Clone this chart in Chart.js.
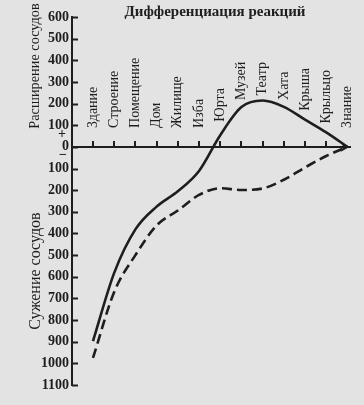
<!DOCTYPE html>
<html><head><meta charset="utf-8">
<script src="https://cdn.jsdelivr.net/npm/chart.js@4/dist/chart.umd.min.js"></script>
<style>html,body{margin:0;padding:0;background:#e3e3e3;}canvas{display:block;}</style>
</head><body>
<canvas id="c" width="364" height="405"></canvas>
<script>
// ---- data ----
const categories = ['Здание','Строение','Помещение','Дом','Жилище','Изба','Юрта','Музей','Театр','Хата','Крыша','Крыльцо','Знание'];
const solidValues  = [-897,-582,-381,-276,-205,-111,54,184,214,185,126,67,0];
const dashedValues = [-975,-670,-500,-363,-294,-222,-191,-199,-192,-152,-95,-42,0];
const yMin = -1100, yMax = 600, yStep = 100;
const chartTitle = 'Дифференциация реакций';
const upperLabel = 'Расширение сосудов';
const lowerLabel = 'Сужение сосудов';

const INK = '#1e1e1e';
const SERIF = "'Liberation Serif','Times New Roman',serif";

function pts(vals){ return vals.map((v,i)=>({x:i,y:v})); }
function interp(vals,t){
  if(t<=0) return vals[0];
  if(t>=vals.length-1) return vals[vals.length-1];
  const i=Math.floor(t), f=t-i;
  return vals[i]+(vals[i+1]-vals[i])*f;
}

const decor = {
  id:'decor',
  afterDraw(chart){
    const {ctx, scales:{x,y}} = chart;
    const y0 = y.getPixelForValue(0);
    const axL = chart.chartArea.left;
    ctx.save();
    ctx.strokeStyle = INK; ctx.fillStyle = INK; ctx.lineWidth = 2;
    // inward y tick marks
    y.ticks.forEach(t=>{
      const py = Math.round(y.getPixelForValue(t.value))+0.5;
      ctx.beginPath(); ctx.moveTo(axL, py); ctx.lineTo(axL+6, py); ctx.stroke();
    });
    // inward x tick marks
    categories.forEach((c,i)=>{
      if(i===categories.length-1) return;
      const px = Math.round(x.getPixelForValue(i));
      ctx.beginPath(); ctx.moveTo(px, y0); ctx.lineTo(px, y0-6); ctx.stroke();
    });
    // arrow head at the end
    const tx = x.getPixelForValue(categories.length-1)+2;
    ctx.beginPath(); ctx.moveTo(tx, y0); ctx.lineTo(tx-9, y0-5); ctx.lineTo(tx-6, y0); ctx.lineTo(tx-9, y0+5); ctx.closePath(); ctx.fill();
    // category labels (rotated), lifted above the solid curve
    ctx.font = '14px '+SERIF;
    ctx.textAlign = 'left'; ctx.textBaseline = 'middle';
    categories.forEach((c,i)=>{
      const px = x.getPixelForValue(i);
      const vmax = Math.max(interp(solidValues,i-0.3), interp(solidValues,i), interp(solidValues,i+0.3));
      const bottom = Math.min(y0-19, y.getPixelForValue(vmax)-5);
      ctx.save(); ctx.translate(px, bottom); ctx.rotate(-Math.PI/2);
      ctx.fillText(c, 0, 0); ctx.restore();
    });
    // title
    ctx.font = 'bold 15px '+SERIF;
    ctx.textAlign = 'center';
    ctx.fillText(chartTitle, 215, 12);
    // axis side labels
    ctx.font = '14.3px '+SERIF;
    ctx.save(); ctx.translate(35, 66); ctx.rotate(-Math.PI/2); ctx.fillText(upperLabel,0,0); ctx.restore();
    ctx.font = '16px '+SERIF;
    ctx.save(); ctx.translate(36, 271); ctx.rotate(-Math.PI/2); ctx.fillText(lowerLabel,0,0); ctx.restore();
    // + and − signs
    ctx.font = 'bold 14px '+SERIF;
    ctx.fillText('+', 62, 134);
    ctx.fillText('−', 63, 155);
    ctx.restore();
  }
};

const bg = {
  id:'bg',
  beforeDraw(chart){ const c=chart.ctx; c.save(); c.fillStyle='#e3e3e3'; c.fillRect(0,0,chart.width,chart.height); c.restore(); }
};

new Chart(document.getElementById('c'), {
  type:'line',
  data:{ datasets:[
    { data: pts(solidValues), borderColor:INK, borderWidth:2.6, pointRadius:0, fill:false, cubicInterpolationMode:'monotone' },
    { data: pts(dashedValues), borderColor:INK, borderWidth:2.6, borderDash:[10,5], pointRadius:0, fill:false, cubicInterpolationMode:'monotone' }
  ]},
  options:{
    responsive:false, animation:false, devicePixelRatio:1,
    layout:{ padding:{ top:17, bottom:20, left:0, right:14 } },
    plugins:{ legend:{display:false}, tooltip:{enabled:false}, title:{display:false} },
    scales:{
      x:{ type:'linear', min:-0.99, max:12.12, position:{y:0},
          grid:{display:false, drawTicks:false}, ticks:{display:false},
          border:{display:true, color:INK, width:2} },
      y:{ type:'linear', min:yMin, max:yMax,
          ticks:{ stepSize:yStep, color:INK, padding:3, font:{family:SERIF, size:14, weight:'bold'},
                  callback:(v)=>String(Math.abs(v)) },
          grid:{display:false, drawTicks:false},
          border:{display:true, color:INK, width:2},
          afterFit:(s)=>{ s.width = 72; } }
    }
  },
  plugins:[bg, decor]
});
</script>
</body></html>
